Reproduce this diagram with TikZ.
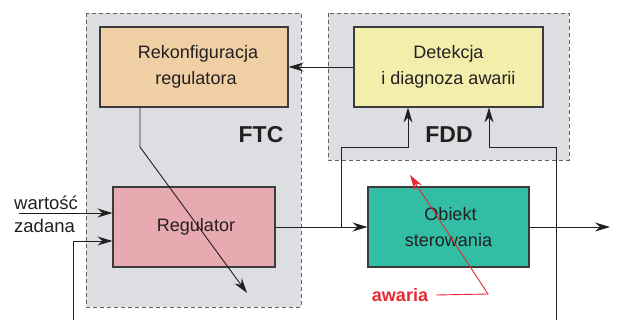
\documentclass[tikz,border=0pt]{standalone}
\usepackage{fontspec}
\setmainfont{Liberation Sans}
\usetikzlibrary{arrows.meta}
\definecolor{regbg}{RGB}{221,222,226}
\definecolor{rekc}{RGB}{241,207,164}
\definecolor{detc}{RGB}{243,238,172}
\definecolor{regc}{RGB}{232,170,177}
\definecolor{obic}{RGB}{50,189,165}
\definecolor{awc}{RGB}{232,40,50}
\definecolor{ink}{RGB}{35,31,32}
\definecolor{edge}{RGB}{60,60,60}
\tikzset{
  region/.style={draw=edge!80, dashed, dash pattern=on 4pt off 3pt, fill=regbg, line width=0.8pt},
  block/.style={draw=edge, line width=1.1pt, minimum width=#1, minimum height=80pt, inner sep=0pt,
    align=center, text=ink, font=\fontsize{18}{25.5}\selectfont},
  wire/.style={draw=ink, line width=0.9pt},
  arr/.style={wire, -{Stealth[length=15pt,width=9pt,inset=5pt]}},
  lab/.style={font=\fontsize{23}{26}\selectfont\bfseries, text=ink},
}
\begin{document}
\begin{tikzpicture}[x=1pt,y=-1pt]
\useasboundingbox (0,0) rectangle (622,320);
% regions
\path[region] (86,13) rectangle (301,307);
\path[region] (328,13) rectangle (569,160);
% blocks
\node[block=188pt, fill=rekc] (rek) at (194,67) {Rekonfiguracja\hspace*{-8pt}\\regulatora\hspace*{-4pt}};
\node[block=189pt, fill=detc] (det) at (448.5,67) {Detekcja\\i diagnoza awarii};
\node[block=162pt, fill=regc] (reg) at (194,227) {Regulator\hspace*{-4pt}};
\node[block=161pt, fill=obic] (obi) at (448.5,227) {\hspace*{4pt}Obiekt\\sterowania};
% labels
\node[lab] (ftc) at (261,135) {FTC};
\node[lab] (fdd) at (449,135) {FDD};
% coordinates
\coordinate (inA) at (19,213);
\coordinate (fbS) at (73,320);
\coordinate (fbC) at (73,241);
\coordinate (out) at (610,227);
\coordinate (j1) at (341,227);
\coordinate (j1t) at (341,147);
\coordinate (d1) at (408,147);
\coordinate (j2b) at (556,320);
\coordinate (j2t) at (556,147);
\coordinate (d2) at (489,147);
\coordinate (kb) at (140,147);
\coordinate (ktip) at (247,293);
% connectors
\draw[arr] (det.west) -- (rek.east);
\draw[arr] (inA) -- (reg.west |- inA);
\draw[arr] (fbS) -- (fbC) -- (reg.west |- fbC);
\draw[arr] (reg.east) -- (obi.west);
\draw[arr] (obi.east) -- (out);
\draw[arr] (j1) -- (j1t) -- (d1) -- (det.south -| d1);
\draw[arr] (j2b) -- (j2t) -- (d2) -- (det.south -| d2);
\draw[arr] (rek.south -| kb) -- (kb) -- (ktip);
% input label
\node[align=left, anchor=west, text=ink, font=\fontsize{18.5}{23}\selectfont, inner sep=0pt] (wz) at (14,214) {wartość\\zadana};
% fault
\node[text=awc, font=\fontsize{18}{20}\selectfont\bfseries, inner sep=0pt] (aw) at (400,295) {awaria};
\coordinate (awk) at (488,294);
\coordinate (awt) at (410,175);
\draw[awc, line width=0.9pt, -{Stealth[length=15pt,width=9pt,inset=5pt]}] (aw.east) ++(8pt,0) -- (awk) -- (awt);
\end{tikzpicture}
\end{document}
